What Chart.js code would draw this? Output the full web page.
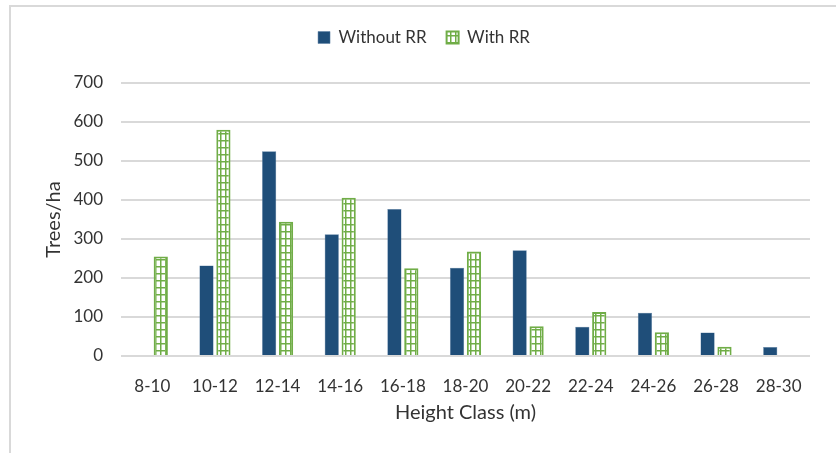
<!DOCTYPE html>
<html>
<head>
<meta charset="utf-8">
<script src="https://cdn.jsdelivr.net/npm/chart.js@4.4.1/dist/chart.umd.min.js"></script>
<style>
  html, body { margin: 0; padding: 0; background: #fff; overflow: hidden; }
  #frame {
    position: absolute; left: 9px; top: 5px; width: 900px; height: 500px;
    border-left: 2px solid #d9d9d9; border-top: 2px solid #d9d9d9;
  }
  #wrap { position: absolute; left: 0; top: 0; width: 836px; height: 453px; }
</style>
</head>
<body>
<div id="frame"></div>
<div id="wrap"><canvas id="chart"></canvas></div>
<script>
// height classes (m) and stand density per class
const heightClasses = ["8-10", "10-12", "12-14", "14-16", "16-18", "18-20", "20-22", "22-24", "24-26", "26-28", "28-30"];
const withoutRR = [null, 232, 525, 312, 377, 226, 271, 75, 111, 60, 23];
const withRR = [255, 580, 344, 406, 225, 268, 76, 113, 61, 24, null];
const yTicks = [0, 100, 200, 300, 400, 500, 600, 700];

const BLUE = "#1f4e79";
const GREEN = "#70ad47";
const TEXT = "#333333";
const FONT = "Lato, 'Open Sans', sans-serif";

// small grid tile for the "With RR" bars
function gridPattern() {
  const c = document.createElement("canvas");
  c.width = 5;
  c.height = 7;
  const g = c.getContext("2d");
  g.fillStyle = "#ffffff";
  g.fillRect(0, 0, 5, 7);
  g.fillStyle = GREEN;
  g.fillRect(0, 0, 1.5, 7);
  g.fillRect(0, 0, 5, 1.5);
  return g.createPattern(c, "repeat");
}

// keep the legend band tall so the plot starts lower
const legendBand = {
  id: "legendBand",
  afterInit(chart) {
    const lg = chart.legend;
    const fit = lg.fit;
    lg.fit = function () {
      fit.call(this);
      this.height = 74;
    };
  }
};

const ctx = document.getElementById("chart").getContext("2d");
new Chart(ctx, {
  type: "bar",
  data: {
    labels: heightClasses,
    datasets: [
      {
        label: "Without RR",
        data: withoutRR,
        backgroundColor: BLUE,
        borderColor: "#5b7fa3",
        borderWidth: 0.5
      },
      {
        label: "With RR",
        data: withRR,
        backgroundColor: gridPattern(),
        borderColor: GREEN,
        borderWidth: 2
      }
    ]
  },
  options: {
    responsive: true,
    maintainAspectRatio: false,
    animation: false,
    devicePixelRatio: 1,
    layout: { padding: { left: 38, right: 26, top: 9, bottom: 24 } },
    datasets: { bar: { categoryPercentage: 0.54, barPercentage: 0.84 } },
    plugins: {
      tooltip: { enabled: false },
      legend: {
        position: "top",
        labels: {
          boxWidth: 12,
          boxHeight: 12,
          padding: 20,
          color: TEXT,
          font: { family: FONT, size: 17 }
        }
      }
    },
    scales: {
      x: {
        grid: { display: false, drawTicks: false },
        border: { display: false },
        ticks: { color: TEXT, padding: 20, maxRotation: 0, font: { family: FONT, size: 17 } },
        title: { display: true, text: "Height Class (m)", color: TEXT, font: { family: FONT, size: 20 } },
        afterFit(scale) { scale.height = 73; }
      },
      y: {
        min: 0,
        max: 700,
        afterBuildTicks(scale) { scale.ticks = yTicks.map(v => ({ value: v })); },
        grid: { color: "#d9d9d9", lineWidth: 2, drawTicks: false },
        border: { display: false },
        ticks: { color: TEXT, padding: 18, font: { family: FONT, size: 17 } },
        title: { display: true, text: "Trees/ha", color: TEXT, font: { family: FONT, size: 20 } },
        afterFit(scale) { scale.width = 83; }
      }
    }
  },
  plugins: [legendBand]
});
</script>
</body>
</html>
